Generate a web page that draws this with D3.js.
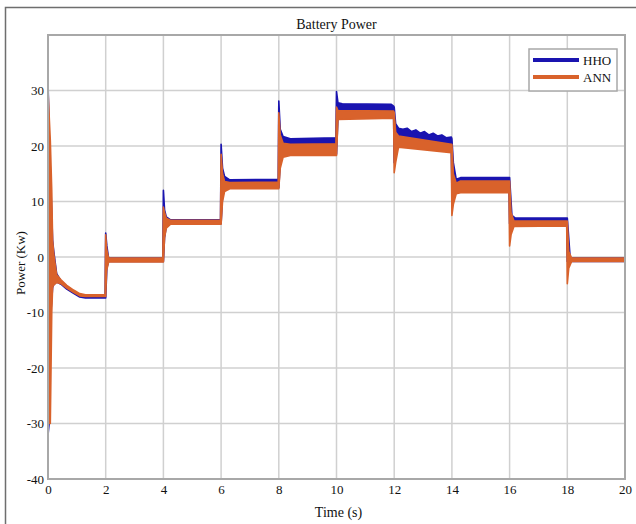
<!DOCTYPE html>
<html>
<head>
<meta charset="utf-8">
<script src="https://cdn.jsdelivr.net/npm/d3@7"></script>
<style>
  html, body { margin: 0; padding: 0; background: #fff; }
  svg { display: block; font-family: "Liberation Serif", "Times New Roman", serif; }
</style>
</head>
<body>
<svg id="chart" width="636" height="524"></svg>
<script>
// ---- Data ----
const xTicks = [0, 2, 4, 6, 8, 10, 12, 14, 16, 18, 20];
const yTicks = [-40, -30, -20, -10, 0, 10, 20, 30];
const seriesNames = ["HHO", "ANN"];

// HHO: time (s), upper and lower envelope of the oscillating trace (kW)
const hhoTime = [0, 0.04, 0.1, 0.16, 0.2, 0.3, 0.45, 0.65, 0.9, 1.1, 1.3, 1.98, 2.0, 2.04, 2.1, 3.98, 4.0, 4.04, 4.1, 4.25, 5.98, 6.0, 6.05, 6.12, 6.3, 7.98, 8.0, 8.05, 8.15, 8.4, 9.98, 10.0, 10.05, 10.2, 11.9, 11.98, 12.0, 12.05, 12.15, 12.3, 12.45, 12.6, 12.75, 12.9, 13.05, 13.2, 13.35, 13.5, 13.65, 13.8, 13.98, 14.0, 14.05, 14.15, 14.3, 15.98, 16.0, 16.08, 16.2, 17.98, 18.0, 18.1, 20];
const hhoHigh = [31.8, 22.2, 12.6, 3, 1, -3, -4.3, -5.3, -6.2, -6.8, -7.0, -7.0, 4.3, 2, -0.2, -0.2, 12, 8.5, 7.2, 6.7, 6.7, 20.3, 16, 14.5, 13.9, 14.0, 28.1, 23, 21.7, 21.3, 21.5, 29.8, 27.8, 27.6, 27.5, 27.2, 27, 24, 23.2, 23.0, 23.2, 22.6, 22.9, 22.3, 22.6, 22.0, 22.3, 21.8, 22.0, 21.5, 21.6, 21.3, 17, 14, 14.3, 14.3, 14.3, 7.5, 7.0, 7.0, 7.0, -0.2, -0.2];
const hhoLow  = [-32.1, -30, -10, -5.5, -5, -4.5, -4.9, -5.8, -6.6, -7.2, -7.4, -7.4, -7.4, -2, -0.8, -0.8, -0.8, 3.5, 5.5, 6.0, 6.0, 6.0, 11, 12.5, 12.5, 12.5, 12.5, 17, 18.5, 18.5, 18.5, 18.5, 25, 25.3, 25.3, 25, 17, 19, 20.5, 20.5, 20.4, 20.3, 20.2, 20.0, 19.9, 19.8, 19.6, 19.5, 19.4, 19.2, 19, 12, 12, 12, 12, 12, 6, 5.5, 5.8, 5.8, -0.8, -0.8, -0.8];

// ANN: time (s), upper and lower envelope (kW)
const annTime = [0, 0.08, 0.13, 0.16, 0.2, 0.3, 0.45, 0.65, 0.9, 1.1, 1.3, 1.98, 2.0, 2.03, 2.1, 3.98, 4.0, 4.04, 4.1, 4.25, 5.98, 6.0, 6.05, 6.12, 6.3, 7.98, 8.0, 8.05, 8.15, 8.4, 9.98, 10.0, 10.05, 11.98, 12.0, 12.05, 12.15, 13.98, 14.0, 14.05, 14.15, 14.3, 15.98, 16.0, 16.05, 16.15, 17.98, 18.0, 18.05, 18.15, 20];
const annHigh = [30, 21, 12, 3, 0.5, -3.2, -4.1, -5.1, -6.0, -6.6, -6.8, -6.8, 4.0, 1.5, -0.2, -0.2, 9, 8, 7, 6.6, 6.6, 18.5, 15, 13.6, 13.4, 13.5, 26, 22, 20.5, 20.3, 20.4, 27, 26.4, 26.3, 26, 22.5, 21.8, 20.3, 20.3, 15, 13.3, 13.7, 13.7, 13.7, 8, 6.5, 6.5, 6.5, 1, -0.2, -0.2];
const annLow  = [-30, -30, -10, -5.5, -5, -4.6, -4.8, -5.6, -6.4, -7.0, -7.1, -7.1, -7.1, -2.5, -0.9, -0.9, -0.9, 3.5, 5.2, 5.9, 5.9, 5.9, 10, 11.8, 12.3, 12.3, 12.3, 16, 18, 18.3, 18.3, 18.3, 24.8, 25.0, 15.2, 17, 19.8, 18.8, 7.5, 9.5, 11.4, 11.6, 11.6, 2, 4, 5.5, 5.6, -4.8, -2, -0.8, -0.8];

// ---- Layout ----
const svg = d3.select("#chart");
const m = { left: 48, right: 625, top: 35, bottom: 479 };
const x = d3.scaleLinear().domain([0, 20]).range([m.left, m.right]);
const y = d3.scaleLinear().domain([-40, 40]).range([m.bottom, m.top]);

const colors = { HHO: "#1a14b0", ANN: "#d9622b" };

// outer figure frame (top and left edges visible)
svg.append("path")
  .attr("d", "M5.5,524 L5.5,7.5 L636,7.5")
  .attr("fill", "none").attr("stroke", "#6e6e6e").attr("stroke-width", 1.5);

// grid
const grid = svg.append("g");
grid.selectAll("line.vx").data(xTicks).join("line")
  .attr("x1", d => x(d)).attr("x2", d => x(d))
  .attr("y1", m.top).attr("y2", m.bottom)
  .attr("stroke", "#d0d0d0").attr("stroke-width", 1.5);
grid.selectAll("line.hy").data(yTicks).join("line")
  .attr("x1", m.left).attr("x2", m.right)
  .attr("y1", d => y(d)).attr("y2", d => y(d))
  .attr("stroke", "#d0d0d0").attr("stroke-width", 1.5);

// series
function makeRows(t, hi, lo) { return t.map((d, i) => ({ t: d, hi: hi[i], lo: lo[i] })); }
const series = [
  { name: "HHO", rows: makeRows(hhoTime, hhoHigh, hhoLow) },
  { name: "ANN", rows: makeRows(annTime, annHigh, annLow) }
];
const area = d3.area().x(d => x(d.t)).y0(d => y(d.lo)).y1(d => y(d.hi));
svg.append("clipPath").attr("id", "plotclip")
  .append("rect").attr("x", m.left - 1).attr("y", m.top)
  .attr("width", m.right - m.left + 1).attr("height", m.bottom - m.top);
const plotG = svg.append("g").attr("clip-path", "url(#plotclip)");
series.forEach(s => {
  plotG.append("path").datum(s.rows)
    .attr("d", area)
    .attr("fill", colors[s.name])
    .attr("stroke", colors[s.name])
    .attr("stroke-width", 1.6)
    .attr("stroke-linejoin", "round");
});

// axes box
svg.append("rect")
  .attr("x", m.left).attr("y", m.top)
  .attr("width", m.right - m.left).attr("height", m.bottom - m.top)
  .attr("fill", "none").attr("stroke", "#a8a8a8").attr("stroke-width", 2);

// axes (labels only)
const fmt = d => String(d);
const xAxis = d3.axisBottom(x).tickValues(xTicks).tickFormat(fmt).tickSize(0).tickPadding(6);
const gx = svg.append("g").attr("transform", `translate(0,${m.bottom})`).call(xAxis);
gx.select(".domain").remove();
gx.selectAll("text").attr("font-size", 13).attr("fill", "#111")
  .attr("font-family", "Liberation Serif, serif");

const yAxis = d3.axisLeft(y).tickValues(yTicks).tickFormat(fmt).tickSize(0).tickPadding(4);
const gy = svg.append("g").attr("transform", `translate(${m.left},0)`).call(yAxis);
gy.select(".domain").remove();
gy.selectAll("text").attr("font-size", 13).attr("fill", "#111")
  .attr("font-family", "Liberation Serif, serif");

// titles
svg.append("text").attr("x", (m.left + m.right) / 2).attr("y", 29)
  .attr("text-anchor", "middle").attr("font-size", 14).attr("fill", "#111")
  .text("Battery Power");
svg.append("text").attr("x", (m.left + m.right) / 2 + 2).attr("y", 517)
  .attr("text-anchor", "middle").attr("font-size", 14).attr("fill", "#111")
  .text("Time (s)");
svg.append("text")
  .attr("transform", `translate(25,${(m.top + m.bottom) / 2 + 6}) rotate(-90)`)
  .attr("text-anchor", "middle").attr("font-size", 13).attr("fill", "#111")
  .text("Power (Kw)");

// legend
const lg = svg.append("g").attr("transform", "translate(529,49)");
lg.append("rect").attr("width", 88).attr("height", 42)
  .attr("fill", "#fff").attr("stroke", "#a8a8a8").attr("stroke-width", 1.5);
seriesNames.forEach((n, i) => {
  const yy = 11 + i * 17;
  lg.append("line").attr("x1", 4).attr("x2", 50).attr("y1", yy).attr("y2", yy)
    .attr("stroke", colors[n]).attr("stroke-width", 4);
  lg.append("text").attr("x", 54).attr("y", yy + 4.5)
    .attr("font-size", 13).attr("fill", "#111").text(n);
});
</script>
</body>
</html>
